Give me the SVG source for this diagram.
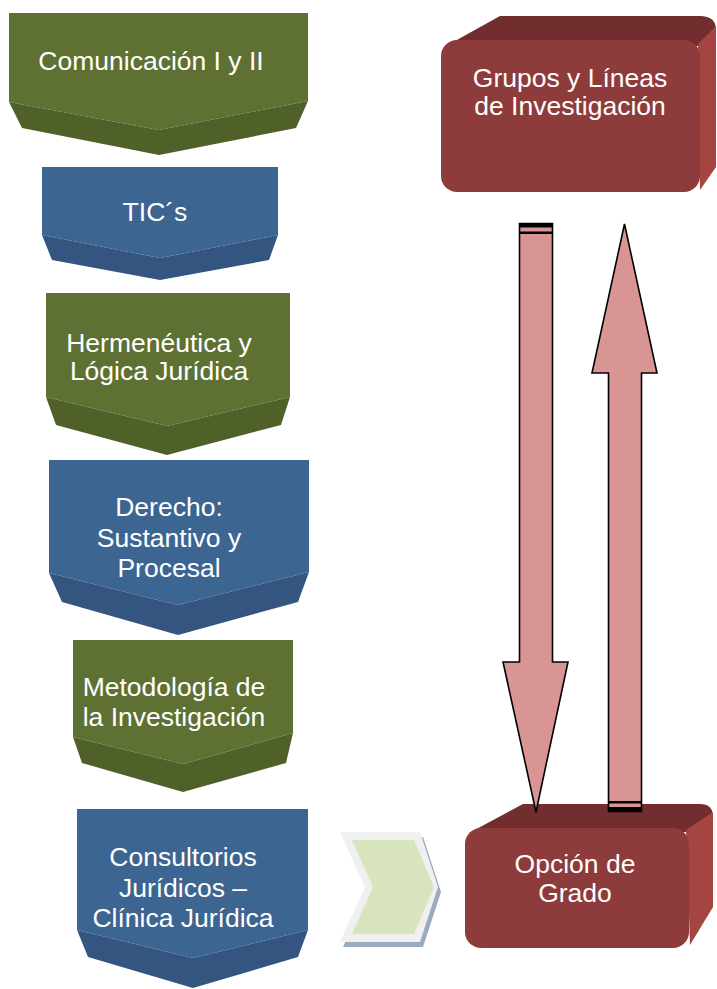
<svg xmlns="http://www.w3.org/2000/svg" width="717" height="989" viewBox="0 0 717 989">
<style>
.t{font-family:"Liberation Sans",Arial,sans-serif;font-size:26.5px;fill:#ffffff;text-anchor:middle}
.gf{fill:#5E7132}
.gb{fill:#4F6129}
.bf{fill:#3D6591}
.bb{fill:#34557F}
.rf{fill:#8E3B3B}
.rt{fill:#722D2F}
.rs{fill:#A54542}
.ar{fill:#D99594;stroke:#000;stroke-width:1.6;stroke-linejoin:miter}
</style>
<rect width="717" height="989" fill="#ffffff"/>
<g id="comunicacion">
<polygon class="gf" points="9,13 308,13 308,101 159,130 9,102"/>
<polygon class="gb" points="9,102 159,130 308,101 296,128 159,155 22,128"/>
<text class="t" x="151" y="70">Comunicación I y II</text>
</g>
<g id="tics">
<polygon class="bf" points="42,167 278,167 278,235 160,258 42,235"/>
<polygon class="bb" points="42,235 160,258 278,235 269,260 160,280 52,260"/>
<text class="t" x="155" y="221">TIC´s</text>
</g>
<g id="hermeneutica">
<polygon class="gf" points="46,293 290,293 290,397 167,426 46,397"/>
<polygon class="gb" points="46,397 167,426 290,397 281,425 167,455 56,425"/>
<text class="t" x="159" y="352">Hermenéutica y</text>
<text class="t" x="159" y="380">Lógica Jurídica</text>
</g>
<g id="derecho">
<polygon class="bf" points="49,460 309,460 309,572 178,605 49,573"/>
<polygon class="bb" points="49,573 178,605 309,572 298,602 178,635 62,602"/>
<text class="t" x="169" y="516">Derecho:</text>
<text class="t" x="169" y="547">Sustantivo y</text>
<text class="t" x="169" y="577">Procesal</text>
</g>
<g id="metodologia">
<polygon class="gf" points="73,640 293,640 293,733 183,764 73,737"/>
<polygon class="gb" points="73,737 183,764 293,733 286,763 183,792 82,763"/>
<text class="t" x="174" y="696">Metodología de</text>
<text class="t" x="174" y="726">la Investigación</text>
</g>
<g id="consultorios">
<polygon class="bf" points="77,809 308,809 308,930 193,958 77,930"/>
<polygon class="bb" points="77,930 193,958 308,930 298,957 193,988 88,957"/>
<text class="t" x="183" y="866">Consultorios</text>
<text class="t" x="183" y="897">Jurídicos –</text>
<text class="t" x="183" y="927">Clínica Jurídica</text>
</g>
<g id="grupos">
<path class="rt" d="M446,46 L500,16 L700,16 Q716,16 716,30 L700,46 Z"/>
<path class="rs" d="M698,44 L716,26 L716,167 L700,190 Z"/>
<rect class="rf" x="441" y="40" width="259" height="152" rx="16"/>
<text class="t" x="570" y="87">Grupos y Líneas</text>
<text class="t" x="570" y="115">de Investigación</text>
</g>
<g id="opcion">
<path class="rt" d="M469,833 L523,804 L700,804 Q713,804 713,817 L688,832 Z"/>
<path class="rs" d="M686,830 L713,812 L713,907 L690,945 Z"/>
<rect class="rf" x="465" y="828" width="224" height="120" rx="16"/>
<text class="t" x="575" y="873">Opción de</text>
<text class="t" x="575" y="902">Grado</text>
</g>
<g id="chevron">
<polygon fill="#9AAABF" points="343,837 423,837 441,892 423,947 343,947 368,892"/>
<polygon fill="#F0F0F0" points="340,832 420,832 438,887 420,942 340,942 365,887"/>
<polygon fill="#D7E4BD" points="352,840 414,840 434,887 414,934 352,934 373,887"/>
</g>
<g id="connectors">
<polygon class="ar" points="519.5,223.5 552.5,223.5 552.5,662 568,662 536,812 503,662 519.5,662"/>
<rect x="519" y="223" width="34" height="4.5" fill="#000"/>
<rect x="519" y="231.5" width="34" height="2.5" fill="#000"/>
<polygon class="ar" points="608.5,811.5 641.5,811.5 641.5,373 657,373 624.5,224 592,373 608.5,373"/>
<rect x="608" y="801" width="34" height="2.5" fill="#000"/>
<rect x="608" y="807" width="34" height="5" fill="#000"/>
</g>
</svg>
